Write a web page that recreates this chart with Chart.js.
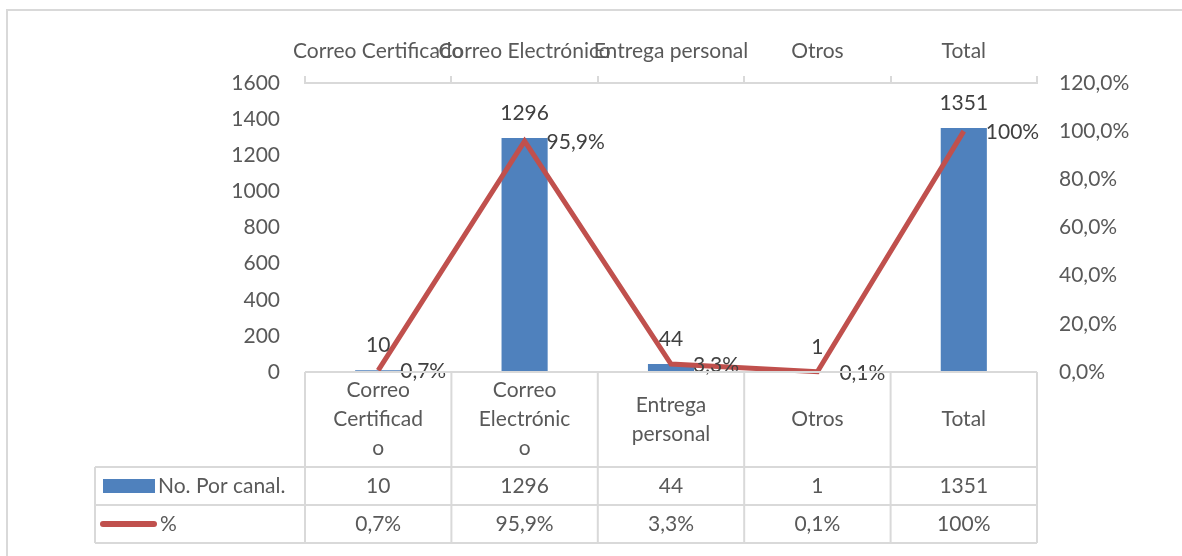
<!DOCTYPE html>
<html lang="es">
<head>
<meta charset="utf-8">
<title>No. Por canal</title>
<script src="https://cdn.jsdelivr.net/npm/chart.js@4.4.1/dist/chart.umd.min.js"></script>
<style>
  body { margin: 0; background: #ffffff; }
  #grafico { display: block; }
</style>
</head>
<body>
<canvas id="grafico" width="1182" height="556"></canvas>
<script>
const categorias = ["Correo Certificado", "Correo Electrónico", "Entrega personal", "Otros", "Total"];
const encabezados = [["Correo", "Certificad", "o"], ["Correo", "Electrónic", "o"], ["Entrega", "personal"], ["Otros"], ["Total"]];
const porCanal = [10, 1296, 44, 1, 1351];
const porcentaje = [0.7, 95.9, 3.3, 0.1, 100];
const etiquetasCanal = ["10", "1296", "44", "1", "1351"];
const etiquetasPorcentaje = ["0,7%", "95,9%", "3,3%", "0,1%", "100%"];
const nombreSerieBarras = "No. Por canal.";
const nombreSerieLinea = "%";

const azul = "#4F81BD";
const rojo = "#C0504D";
const gris = "#595959";
const lineaTabla = "#d9d9d9";
const fuente = { family: "Lato", size: 21 };
const fuenteCss = "21px Lato";

const formatoPorcentaje = (v) => v.toFixed(1).replace(".", ",") + "%";

const marco = {
  id: "marco",
  beforeDraw(chart) {
    const ctx = chart.ctx;
    ctx.save();
    ctx.fillStyle = "#ffffff";
    ctx.fillRect(0, 0, chart.width, chart.height);
    ctx.strokeStyle = lineaTabla;
    ctx.lineWidth = 2;
    ctx.beginPath();
    ctx.moveTo(7, chart.height);
    ctx.lineTo(7, 10);
    ctx.lineTo(chart.width, 10);
    ctx.stroke();
    ctx.restore();
  }
};

const etiquetas = {
  id: "etiquetas",
  afterDatasetsDraw(chart) {
    const ctx = chart.ctx;
    ctx.save();
    ctx.font = fuenteCss;
    ctx.fillStyle = "#404040";
    ctx.textBaseline = "middle";

    ctx.textAlign = "center";
    chart.getDatasetMeta(0).data.forEach((barra, i) => {
      ctx.fillText(etiquetasCanal[i], barra.x, barra.y - 25);
    });

    ctx.textAlign = "left";
    chart.getDatasetMeta(1).data.forEach((punto, i) => {
      ctx.fillText(etiquetasPorcentaje[i], punto.x + 22, punto.y + 1);
    });
    ctx.restore();
  }
};

const tabla = {
  id: "tabla",
  afterDraw(chart) {
    const ctx = chart.ctx;
    const area = chart.chartArea;
    const n = categorias.length;
    const ancho = area.width / n;
    const arriba = area.bottom;
    const finEncabezado = arriba + 95;
    const alto = 38;
    const abajo = finEncabezado + alto * 2;
    const izquierda = 95;

    ctx.save();
    ctx.strokeStyle = lineaTabla;
    ctx.lineWidth = 2;
    ctx.beginPath();
    ctx.moveTo(area.left, arriba);
    ctx.lineTo(area.right, arriba);
    for (let f = 0; f <= 2; f++) {
      const y = finEncabezado + f * alto;
      ctx.moveTo(izquierda, y);
      ctx.lineTo(area.right, y);
    }
    for (let k = 0; k <= n; k++) {
      const x = area.left + k * ancho;
      ctx.moveTo(x, arriba);
      ctx.lineTo(x, abajo);
    }
    ctx.moveTo(izquierda, finEncabezado);
    ctx.lineTo(izquierda, abajo);
    ctx.stroke();

    ctx.font = fuenteCss;
    ctx.fillStyle = gris;
    ctx.textBaseline = "middle";
    ctx.textAlign = "center";

    const centroEncabezado = (arriba + finEncabezado) / 2;
    encabezados.forEach((lineas, i) => {
      const x = chart.scales.x.getPixelForValue(i);
      const inicio = centroEncabezado - (lineas.length - 1) * 29 / 2;
      lineas.forEach((texto, j) => ctx.fillText(texto, x, inicio + j * 29));
      ctx.fillText(etiquetasCanal[i], x, finEncabezado + alto / 2);
      ctx.fillText(etiquetasPorcentaje[i], x, finEncabezado + alto * 1.5);
    });

    // leyenda dentro de la tabla
    const yFila1 = finEncabezado + alto / 2;
    const yFila2 = finEncabezado + alto * 1.5;
    ctx.fillStyle = azul;
    ctx.fillRect(103, yFila1 - 7, 52, 14);
    ctx.strokeStyle = rojo;
    ctx.lineWidth = 6;
    ctx.lineCap = "round";
    ctx.beginPath();
    ctx.moveTo(103, yFila2);
    ctx.lineTo(154, yFila2);
    ctx.stroke();

    ctx.fillStyle = gris;
    ctx.textAlign = "left";
    ctx.fillText(nombreSerieBarras, 158, yFila1);
    ctx.fillText(nombreSerieLinea, 160, yFila2);
    ctx.restore();
  }
};

const ctx = document.querySelector("#grafico");

new Chart(ctx, {
  type: "bar",
  data: {
    labels: categorias,
    datasets: [
      {
        label: nombreSerieBarras,
        data: porCanal,
        backgroundColor: azul,
        yAxisID: "y",
        categoryPercentage: 1,
        barPercentage: 0.315,
        order: 1
      },
      {
        type: "line",
        label: nombreSerieLinea,
        data: porcentaje,
        borderColor: rojo,
        borderWidth: 5,
        pointRadius: 0,
        tension: 0,
        clip: false,
        yAxisID: "y1",
        order: 0
      }
    ]
  },
  options: {
    responsive: false,
    animation: false,
    layout: { padding: { top: 0, bottom: 184, left: 0, right: 0 } },
    plugins: {
      legend: { display: false },
      tooltip: { enabled: false }
    },
    scales: {
      x: {
        position: "top",
        offset: true,
        grid: { offset: true, drawOnChartArea: false, tickLength: 7, color: lineaTabla, lineWidth: 2 },
        border: { color: lineaTabla, width: 2 },
        ticks: { font: fuente, color: gris, padding: 12, maxRotation: 0, autoSkip: false },
        afterFit: (escala) => { escala.height = 83; }
      },
      y: {
        position: "left",
        min: 0,
        max: 1600,
        ticks: { stepSize: 200, padding: 25, font: fuente, color: gris, callback: (v) => String(v) },
        grid: { display: false, drawTicks: false },
        border: { display: false },
        afterFit: (escala) => { escala.width = 305; }
      },
      y1: {
        position: "right",
        min: 0,
        max: 120,
        ticks: { stepSize: 20, padding: 22, font: fuente, color: gris, callback: (v) => formatoPorcentaje(v) },
        grid: { display: false, drawTicks: false },
        border: { display: false },
        afterFit: (escala) => { escala.width = 145; }
      }
    }
  },
  plugins: [marco, etiquetas, tabla]
});
</script>
</body>
</html>
